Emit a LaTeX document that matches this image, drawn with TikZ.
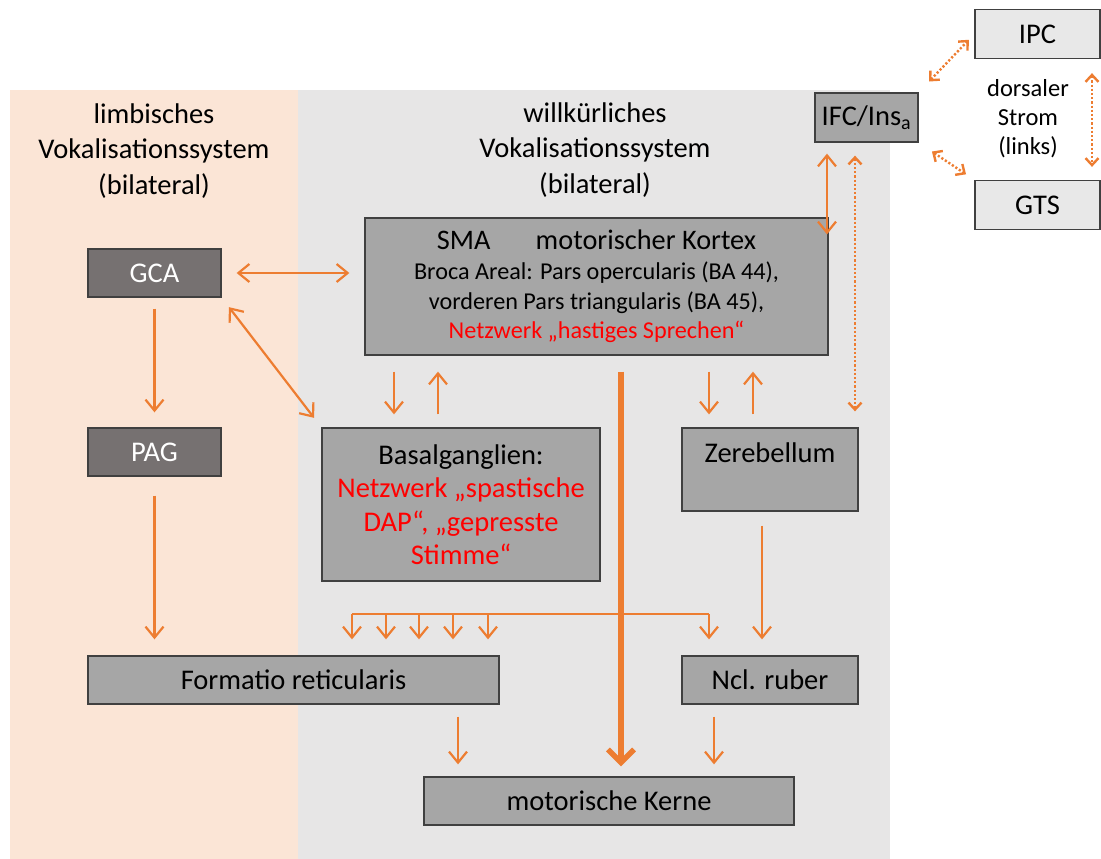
\documentclass[tikz,border=0pt]{standalone}
\usepackage{fontspec}
\setmainfont{Carlito}
\usetikzlibrary{arrows.meta}
\definecolor{peach}{RGB}{251,229,214}
\definecolor{paper}{RGB}{231,230,230}
\definecolor{midbox}{RGB}{166,166,166}
\definecolor{darkbox}{RGB}{118,113,113}
\definecolor{lightbox}{RGB}{232,232,232}
\definecolor{boxline}{RGB}{64,64,64}
\definecolor{arrowc}{RGB}{237,125,49}
\tikzset{
    normal/.style={draw=boxline, line width=1.3pt},
    dbox/.style={style=normal, fill=darkbox, text=white, minimum width=133pt, minimum height=48pt},
    gbox/.style={style=normal, fill=midbox, align=center},
    lbox/.style={style=normal, fill=lightbox, minimum width=125pt, minimum height=49pt},
    head/.style={align=center, font=\fontsize{28.5}{35.5}\selectfont},
    e/.style={draw=arrowc, line width=2.2pt, shorten <=14pt, shorten >=13pt, ->, >={Straight Barb[length=11pt,width=18pt]}},
    ee/.style={style=e, <->},
    de/.style={style=ee, dotted, line width=2.4pt, >={Straight Barb[length=7pt,width=13pt]}},
    thick arrow/.style={style=e, line width=5.5pt, >={Straight Barb[length=13pt,width=26pt]}}
}
\begin{document}
\begin{tikzpicture}[x=1pt, y=-1pt, font=\fontsize{28.5}{33.5}\selectfont]
  \useasboundingbox (0,0) rectangle (1101,859);
  % two systems
  \fill[peach] (10,90) rectangle (298,859);
  \fill[paper] (298,90) rectangle (890,859);
  \node[head] (limbic) at (154,151) {limbisches\\Vokalisationssystem\\(bilateral)};
  \node[head] (volit) at (595,150) {willkürliches\\Vokalisationssystem\\(bilateral)};

  \node[dbox] (gca) at (154.5,273) {GCA};
  \node[dbox] (pag) at (154.5,452) {PAG};
  \node[gbox, minimum width=463pt, minimum height=137pt, font=\fontsize{24.2}{29.8}\selectfont] (sma) at (596.5,286.5)
      {{\fontsize{28.3}{30}\selectfont SMA\hspace{1.6em}motorischer Kortex}\\
       Broca Areal: Pars opercularis (BA 44),\\
       vorderen Pars triangularis (BA 45),\\
       \textcolor{red}{Netzwerk „hastiges Sprechen“}};
  \node[gbox, minimum width=278pt, minimum height=153pt] (basal) at (461,504.5)
      {Basalganglien:\\ \textcolor{red}{Netzwerk „spastische}\\ \textcolor{red}{DAP“, „gepresste}\\ \textcolor{red}{Stimme“}};
  \node[gbox, minimum width=176pt, minimum height=83pt] (zereb) at (770,469.5) {Zerebellum\\\mbox{}};
  \node[gbox, minimum width=411pt, minimum height=48pt] (formatio) at (293.5,680) {Formatio reticularis};
  \node[gbox, minimum width=176pt, minimum height=48pt] (ruber) at (770,680) {Ncl. ruber};
  \node[gbox, minimum width=370pt, minimum height=48pt] (motor) at (609,801) {motorische Kerne};
  \node[gbox, minimum width=103pt, minimum height=49pt] (ifc) at (866.5,117.5) {IFC/Ins\textsubscript{a}};

  % dorsal stream
  \node[lbox] (ipc) at (1037.5,34) {IPC};
  \node[lbox] (gts) at (1037.5,205) {GTS};
  \node[align=center, font=\fontsize{24.5}{29}\selectfont] (dorsal) at (1028,119) {dorsaler\\Strom\\(links)};
  \draw[de, shorten <=15pt, shorten >=8pt] (ifc.north east) -- (ipc.west);
  \draw[de, shorten <=16pt, shorten >=10pt] (ifc.south east) -- (gts.north west);
  \draw[de] ([xshift=54.5pt]ipc.south) -- ([xshift=54.5pt]gts.north);
  \draw[de, shorten <=13pt, shorten >=16pt] ([xshift=-11.5pt]ifc.south) -- ([xshift=-11.5pt]ifc.south |- zereb.north);
  \draw[ee, shorten <=11pt, shorten >=-17pt] ([xshift=-39.5pt]ifc.south) -- ([xshift=-39.5pt]ifc.south |- sma.north);

  % limbic pathway
  \draw[ee, shorten <=15pt, shorten >=15pt] (gca.east) -- (sma.west |- gca.east);
  \draw[ee, shorten <=12pt, shorten >=12pt] (gca.south east) -- (basal.north west);
  \draw[e, shorten <=11pt, shorten >=15pt] (gca.south) -- (pag.north);
  \draw[e, shorten <=19pt, shorten >=16pt] (pag.south) -- (pag.south |- formatio.north);

  % cortical loops
  \draw[e, shorten <=16pt] ([xshift=-67pt]basal.north |- sma.south) -- ([xshift=-67pt]basal.north);
  \draw[e, shorten <=13pt, shorten >=16pt] ([xshift=-23pt]basal.north) -- ([xshift=-23pt]basal.north |- sma.south);
  \draw[e, shorten <=16pt] ([xshift=-61pt]zereb.north |- sma.south) -- ([xshift=-61pt]zereb.north);
  \draw[e, shorten <=13pt, shorten >=16pt] ([xshift=-17pt]zereb.north) -- ([xshift=-17pt]zereb.north |- sma.south);
  \draw[e, shorten <=14pt, shorten >=16pt] ([xshift=-8pt]zereb.south) -- ([xshift=-8pt]zereb.south |- ruber.north);

  % branches to the brain stem
  \coordinate (branch west) at (352,614);
  \coordinate (branch east) at (709,614);
  \draw[draw=arrowc, line width=2.2pt] (branch west) -- (branch east);
  \foreach \dx in {0,34,67,101,136}
    \draw[e, shorten <=0pt, shorten >=16pt] ([xshift=\dx pt]branch west) -- ([xshift=\dx pt]branch west |- formatio.north);
  \draw[e, shorten <=0pt, shorten >=16pt] (branch east) -- (branch east |- ruber.north);
  \draw[thick arrow, shorten <=16pt, shorten >=10pt] ([xshift=12pt]motor.north |- sma.south) -- ([xshift=12pt]motor.north);
  \draw[e, shorten <=12pt, shorten >=12pt] ([xshift=-151pt]motor.north |- formatio.south) -- ([xshift=-151pt]motor.north);
  \draw[e, shorten <=12pt, shorten >=12pt] ([xshift=105pt]motor.north |- ruber.south) -- ([xshift=105pt]motor.north);
\end{tikzpicture}
\end{document}
